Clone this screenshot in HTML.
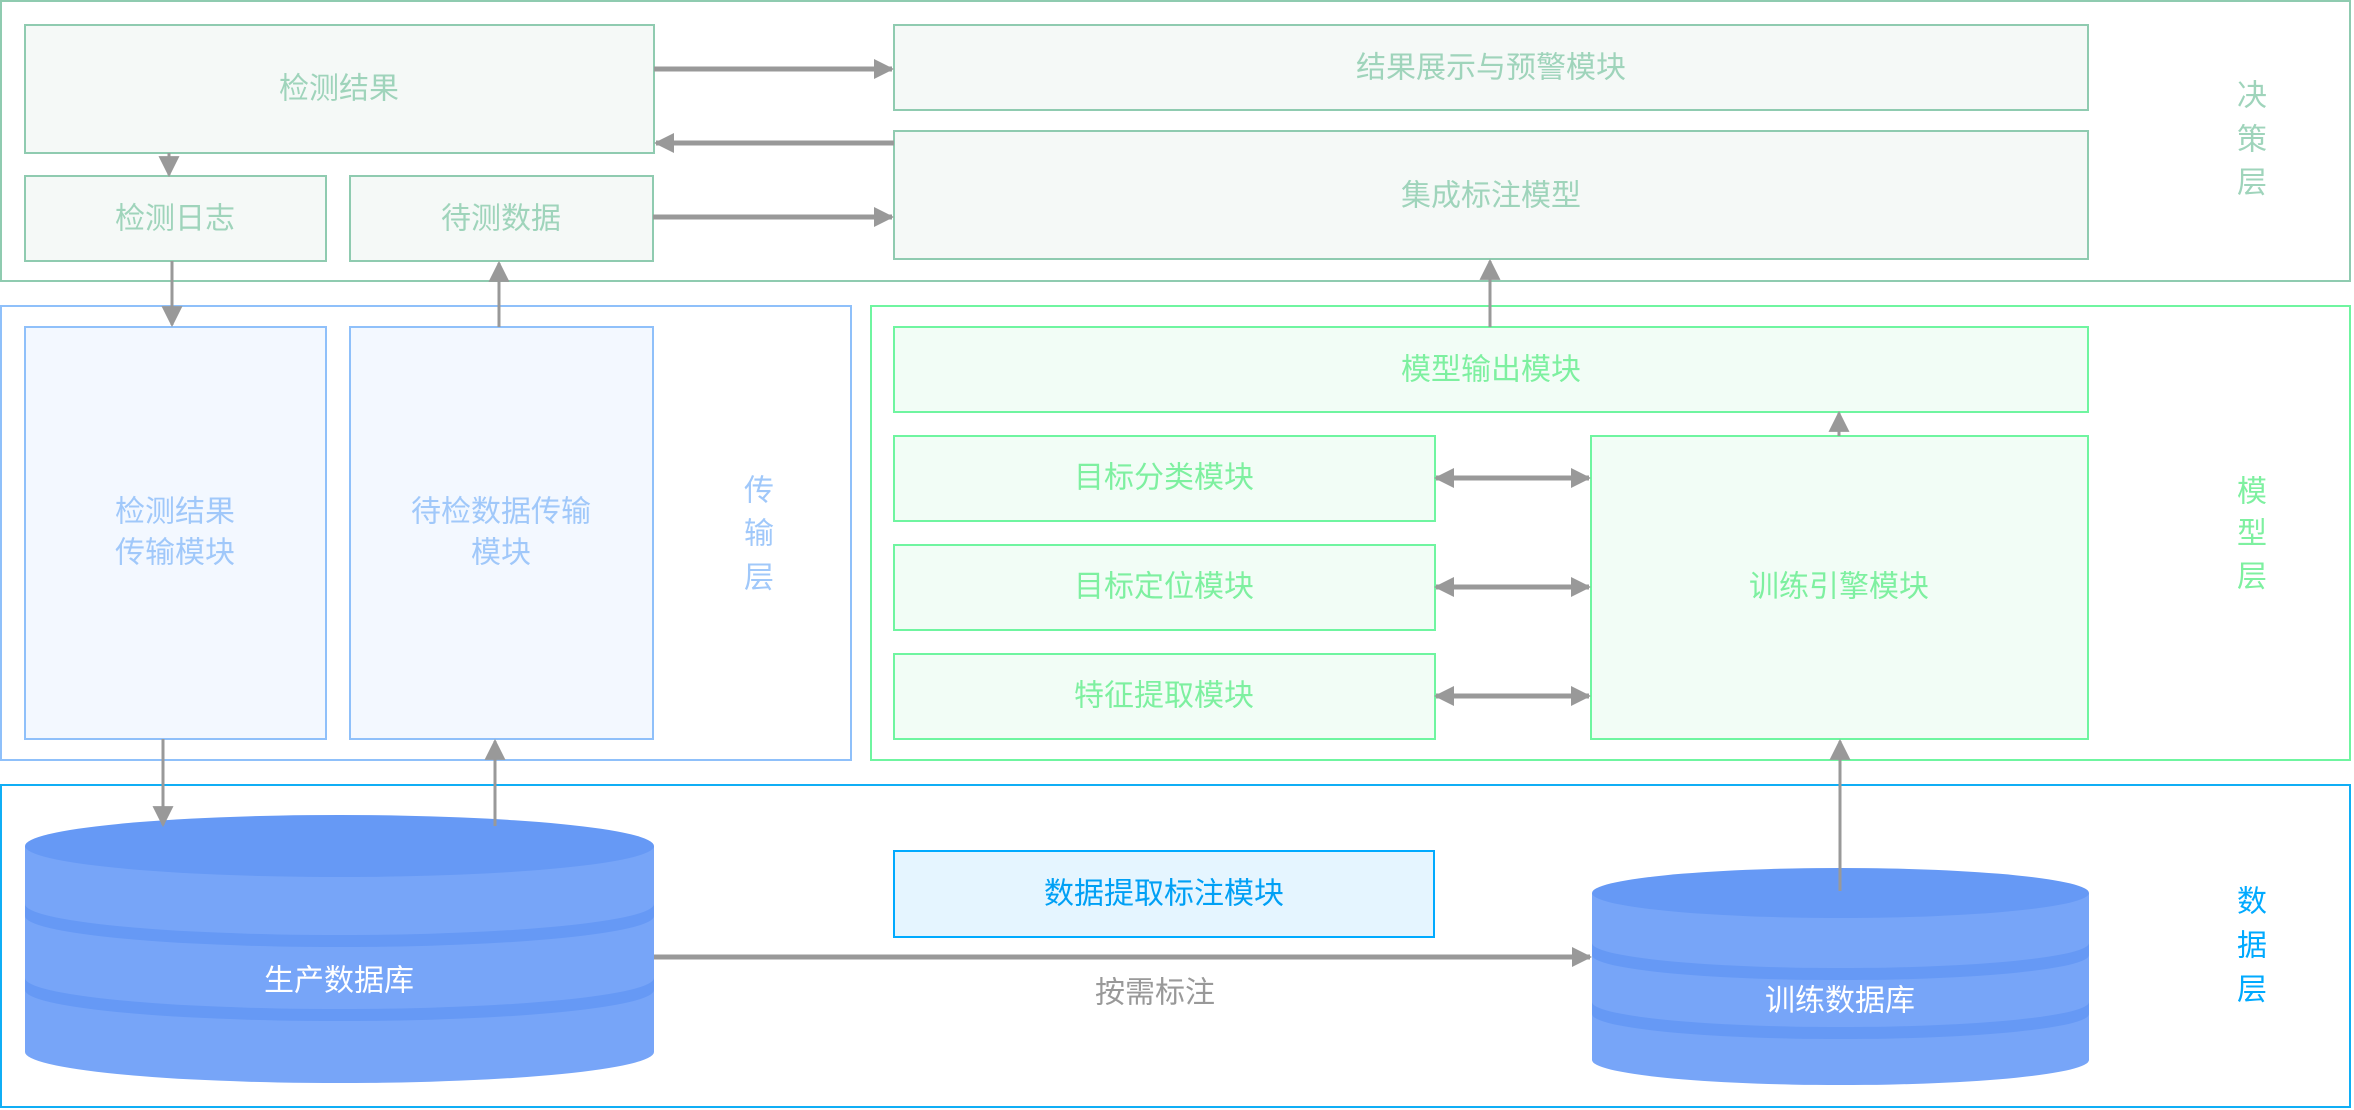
<!DOCTYPE html>
<html><head><meta charset="utf-8">
<style>
html,body{margin:0;padding:0;background:#fff;}
svg{display:block;}
text{font-family:"Liberation Sans","Noto Sans CJK SC",sans-serif;font-size:30px;dominant-baseline:central;text-anchor:middle;}
</style></head>
<body>
<svg width="2354" height="1110" viewBox="0 0 2354 1110" xmlns="http://www.w3.org/2000/svg">
<defs>
<marker id="ah" viewBox="0 0 10 10" refX="9" refY="5" markerWidth="4" markerHeight="4" orient="auto-start-reverse" markerUnits="strokeWidth">
<path d="M0,0 L10,5 L0,10 z" fill="#999"/></marker>
<marker id="ah2" viewBox="0 0 10 10" refX="9" refY="5" markerWidth="8" markerHeight="7" orient="auto-start-reverse" markerUnits="strokeWidth">
<path d="M0,0 L10,5 L0,10 z" fill="#999"/></marker>
</defs>

<rect x="1" y="1" width="2349" height="280" fill="#fff" stroke="#8fcbb0" stroke-width="2"/>
<g fill="#f5f9f7" stroke="#8fcbb0" stroke-width="2">
<rect x="25" y="25" width="629" height="128"/>
<rect x="894" y="25" width="1194" height="85"/>
<rect x="894" y="131" width="1194" height="128"/>
<rect x="25" y="176" width="301" height="85"/>
<rect x="350" y="176" width="303" height="85"/>
</g>
<g fill="#9fd4bb">
<text x="339" y="89">检测结果</text>
<text x="1491" y="68">结果展示与预警模块</text>
<text x="1491" y="196">集成标注模型</text>
<text x="175" y="219">检测日志</text>
<text x="501" y="219">待测数据</text>
<text x="2252" y="96">决</text><text x="2252" y="140">策</text><text x="2252" y="183">层</text>
</g>

<rect x="1" y="306" width="850" height="454" fill="#fff" stroke="#8fc0fa" stroke-width="2"/>
<g fill="#f3f8ff" stroke="#8fc0fa" stroke-width="2">
<rect x="25" y="327" width="301" height="412"/>
<rect x="350" y="327" width="303" height="412"/>
</g>
<g fill="#a0c8fa">
<text x="175" y="512">检测结果</text><text x="175" y="553">传输模块</text>
<text x="501" y="512">待检数据传输</text><text x="501" y="553">模块</text>
<text x="759" y="491">传</text><text x="759" y="534">输</text><text x="759" y="578">层</text>
</g>

<rect x="871" y="306" width="1479" height="454" fill="#fff" stroke="#6ff5a0" stroke-width="2"/>
<g fill="#f2fdf6" stroke="#6ff5a0" stroke-width="2">
<rect x="894" y="327" width="1194" height="85"/>
<rect x="894" y="436" width="541" height="85"/>
<rect x="894" y="545" width="541" height="85"/>
<rect x="894" y="654" width="541" height="85"/>
<rect x="1591" y="436" width="497" height="303"/>
</g>
<g fill="#7ef0a0">
<text x="1491" y="370">模型输出模块</text>
<text x="1164" y="478">目标分类模块</text>
<text x="1164" y="587">目标定位模块</text>
<text x="1164" y="696">特征提取模块</text>
<text x="1839" y="587">训练引擎模块</text>
<text x="2252" y="492">模</text><text x="2252" y="534">型</text><text x="2252" y="577">层</text>
</g>

<rect x="1" y="785" width="2349" height="322" fill="#fff" stroke="#10aef5" stroke-width="2"/>
<rect x="894" y="851" width="540" height="86" fill="#e5f5ff" stroke="#00aaff" stroke-width="2"/>
<text x="1164" y="894" fill="#00a0f5" font-size="31">数据提取标注模块</text>
<g fill="#00aaff">
<text x="2252" y="902">数</text><text x="2252" y="946">据</text><text x="2252" y="990">层</text>
</g>

<g>
<path d="M25,846 L25,1052 A314,31 0 0 0 654,1052 L654,846 Z" fill="#77a5f8"/>
<path d="M25,904 A314,31 0 0 0 654,904 L654,916 A314,31 0 0 1 25,916 Z" fill="#6699f5"/>
<path d="M25,978 A314,31 0 0 0 654,978 L654,990 A314,31 0 0 1 25,990 Z" fill="#6699f5"/>
<ellipse cx="339.5" cy="846" rx="314.5" ry="31" fill="#6699f5"/>
<text x="339" y="981" fill="#fff">生产数据库</text>
</g>
<g>
<path d="M1592,893 L1592,1060 A248,25 0 0 0 2089,1060 L2089,893 Z" fill="#77a5f8"/>
<path d="M1592,943 A248,25 0 0 0 2089,943 L2089,955 A248,25 0 0 1 1592,955 Z" fill="#6699f5"/>
<path d="M1592,1002 A248,25 0 0 0 2089,1002 L2089,1014 A248,25 0 0 1 1592,1014 Z" fill="#6699f5"/>
<ellipse cx="1840.5" cy="893" rx="248.5" ry="25" fill="#6699f5"/>
<text x="1840" y="1001" fill="#fff">训练数据库</text>
</g>

<g stroke="#999" stroke-width="5" fill="none">
<line x1="654" y1="69" x2="892" y2="69" marker-end="url(#ah)"/>
<line x1="894" y1="143" x2="656" y2="143" marker-end="url(#ah)"/>
<line x1="653" y1="217" x2="892" y2="217" marker-end="url(#ah)"/>
<line x1="1436" y1="478" x2="1589" y2="478" marker-start="url(#ah)" marker-end="url(#ah)"/>
<line x1="1436" y1="587" x2="1589" y2="587" marker-start="url(#ah)" marker-end="url(#ah)"/>
<line x1="1436" y1="696" x2="1589" y2="696" marker-start="url(#ah)" marker-end="url(#ah)"/>
<line x1="654" y1="957" x2="1590" y2="957" marker-end="url(#ah)"/>
</g>
<g stroke="#999" stroke-width="3" fill="none">
<line x1="169" y1="153" x2="169" y2="175" marker-end="url(#ah2)"/>
<line x1="172" y1="261" x2="172" y2="325" marker-end="url(#ah2)"/>
<line x1="499" y1="327" x2="499" y2="263" marker-end="url(#ah2)"/>
<line x1="1490" y1="327" x2="1490" y2="261" marker-end="url(#ah2)"/>
<line x1="1839" y1="436" x2="1839" y2="413" marker-end="url(#ah2)"/>
<line x1="163" y1="739" x2="163" y2="825" marker-end="url(#ah2)"/>
<line x1="495" y1="826" x2="495" y2="741" marker-end="url(#ah2)"/>
<line x1="1840" y1="891" x2="1840" y2="741" marker-end="url(#ah2)"/>
</g>
<text x="1155" y="993" fill="#999">按需标注</text>
</svg>
</body></html>
